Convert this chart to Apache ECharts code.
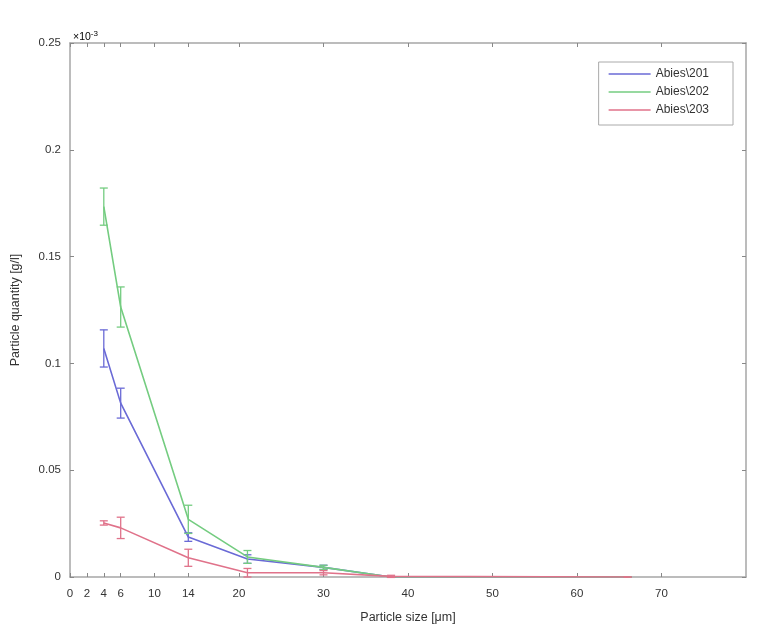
<!DOCTYPE html>
<html>
<head>
<meta charset="utf-8">
<script src="https://cdn.jsdelivr.net/npm/echarts@6/dist/echarts.min.js"></script>
<style>
html,body{margin:0;padding:0;background:#fff;}
#c{width:760px;height:632px;}
</style>
</head>
<body>
<div id="c"></div>
<script>
// Particle sizes (µm)
const sizes = [4, 6, 14, 21, 30, 38, 66];
// Values in units of 1e-3 g/l
const abies201 = [0.107, 0.0814, 0.0187, 0.0084, 0.0045, 0, 0];
const abies201Err = [0.0087, 0.007, 0.002, 0.002, 0.001, 0, 0];
const abies202 = [0.1734, 0.1264, 0.027, 0.0094, 0.0045, 0, 0];
const abies202Err = [0.0087, 0.0094, 0.0066, 0.003, 0.001, 0, 0];
const abies203 = [0.0253, 0.023, 0.009, 0.002, 0.002, 0.0003, 0];
const abies203Err = [0.001, 0.005, 0.004, 0.002, 0.001, 0.0005, 0];
// Tick labels
const xTicks = [0, 2, 4, 6, 10, 14, 20, 30, 40, 50, 60, 70];
const yTicks = [0, 0.05, 0.1, 0.15, 0.2, 0.25];
const names = ['Abies\\201', 'Abies\\202', 'Abies\\203'];
const colors = ['#6a6ad6', '#74cc80', '#e0728a'];

const chart = echarts.init(document.getElementById('c'));
const font = 'Liberation Sans, Arial, sans-serif';
const axisColor = '#a6a6a6';

function lineData(vals) { return sizes.map((s, i) => [s, vals[i]]); }
function errData(vals, errs) { return sizes.map((s, i) => [s, vals[i] - errs[i], vals[i] + errs[i]]); }

function errSeries(vals, errs, color, idx) {
  return {
    type: 'custom',
    name: 'err' + idx,
    data: errData(vals, errs),
    z: 3 + idx,
    silent: true,
    renderItem: function (params, api) {
      const x = api.value(0);
      const lo = api.coord([x, api.value(1)]);
      const hi = api.coord([x, api.value(2)]);
      const w = 4;
      const st = { stroke: color, lineWidth: 1.3 };
      return {
        type: 'group',
        children: [
          { type: 'line', shape: { x1: lo[0], y1: lo[1], x2: hi[0], y2: hi[1] }, style: st },
          { type: 'line', shape: { x1: lo[0] - w, y1: lo[1], x2: lo[0] + w, y2: lo[1] }, style: st },
          { type: 'line', shape: { x1: hi[0] - w, y1: hi[1], x2: hi[0] + w, y2: hi[1] }, style: st }
        ]
      };
    }
  };
}

function lineSeries(name, vals, color, idx) {
  return {
    type: 'line',
    name: name,
    data: lineData(vals),
    symbol: 'none',
    z: 3 + idx,
    lineStyle: { color: color, width: 1.6 },
    itemStyle: { color: color },
    animation: false
  };
}

const baseX = {
  type: 'value', min: 0, max: 80,
  axisLine: { show: true, onZero: false, lineStyle: { color: axisColor, width: 1.5 } },
  splitLine: { show: false },
  axisTick: { show: true, inside: true, length: 4, lineStyle: { color: '#888' }, customValues: xTicks },
};
const baseY = {
  type: 'value', min: 0, max: 0.25,
  axisLine: { show: true, onZero: false, lineStyle: { color: axisColor, width: 1.5 } },
  splitLine: { show: false },
  axisTick: { show: true, inside: true, length: 4, lineStyle: { color: '#888' }, customValues: yTicks },
};

chart.setOption({
  animation: false,
  backgroundColor: '#fff',
  grid: { left: 70, right: 14, top: 43, bottom: 55 },
  legend: {
    data: names,
    orient: 'vertical',
    right: 27, top: 62,
    icon: 'rect',
    itemWidth: 42, itemHeight: 1.6, itemGap: 4,
    padding: [5, 24, 8, 10],
    borderColor: '#aaa', borderWidth: 1,
    textStyle: { fontFamily: font, fontSize: 12, color: '#333', lineHeight: 14 },
    selectedMode: false
  },
  xAxis: [
    Object.assign({}, baseX, {
      position: 'bottom',
      name: 'Particle size [μm]', nameLocation: 'middle', nameGap: 34,
      nameTextStyle: { fontFamily: font, fontSize: 12.5, color: '#333' },
      axisLabel: { show: true, customValues: xTicks, fontFamily: font, fontSize: 11.5, color: '#333', margin: 11 }
    }),
    Object.assign({}, baseX, { position: 'top', axisLabel: { show: false } })
  ],
  yAxis: [
    Object.assign({}, baseY, {
      position: 'left',
      name: 'Particle quantity [g/l]', nameLocation: 'middle', nameGap: 48, nameRotate: 90,
      nameTextStyle: { fontFamily: font, fontSize: 12.5, color: '#333' },
      axisLabel: { show: true, customValues: yTicks, fontFamily: font, fontSize: 11.5, color: '#333', margin: 9,
        formatter: function (v) { return String(+v.toFixed(2)); } }
    }),
    Object.assign({}, baseY, { position: 'right', axisLabel: { show: false } })
  ],
  graphic: [{
    type: 'text', left: 73, top: 30,
    style: {
      text: '{a|×10}{b|-3}',
      rich: {
        a: { fontFamily: font, fontSize: 10.5, color: '#444' },
        b: { fontFamily: font, fontSize: 8, color: '#444', verticalAlign: 'top', padding: [0, 0, 6, 0] }
      }
    }
  }],
  series: [
    lineSeries(names[0], abies201, colors[0], 0),
    errSeries(abies201, abies201Err, colors[0], 0),
    lineSeries(names[1], abies202, colors[1], 1),
    errSeries(abies202, abies202Err, colors[1], 1),
    lineSeries(names[2], abies203, colors[2], 2),
    errSeries(abies203, abies203Err, colors[2], 2)
  ]
});
</script>
</body>
</html>
